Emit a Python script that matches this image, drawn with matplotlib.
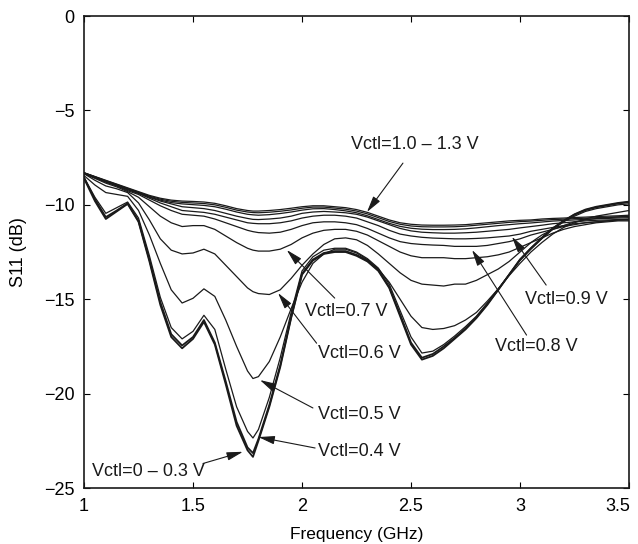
import matplotlib
matplotlib.use("Agg")
import matplotlib.pyplot as plt
from matplotlib.transforms import ScaledTranslation

plt.rcParams['font.family'] = ['Liberation Sans', 'DejaVu Sans']

# frequency grid (GHz)
freq = [1.0, 1.05, 1.1, 1.15, 1.2, 1.25, 1.3, 1.35, 1.4, 1.45,
        1.5, 1.55, 1.6, 1.65, 1.7, 1.75, 1.775, 1.8, 1.85, 1.9,
        1.95, 2.0, 2.05, 2.1, 2.15, 2.2, 2.25, 2.3, 2.35, 2.4,
        2.45, 2.5, 2.55, 2.6, 2.65, 2.7, 2.75, 2.8, 2.85, 2.9,
        2.95, 3.0, 3.05, 3.1, 3.15, 3.2, 3.25, 3.3, 3.35, 3.4,
        3.45, 3.5]

# S11 (dB), one list per control voltage
s11_00 = [-8.6, -9.8, -10.75, -10.35, -9.95, -10.9, -13.0, -15.3, -17.0, -17.6,
          -17.1, -16.2, -17.4, -19.5, -21.7, -23.0, -23.35, -22.5, -20.7, -18.6,
          -16.0, -13.7, -12.95, -12.6, -12.5, -12.5, -12.7, -13.0, -13.5, -14.4,
          -15.9, -17.4, -18.2, -18.0, -17.6, -17.1, -16.6, -16.0, -15.3, -14.5,
          -13.7, -12.9, -12.3, -11.75, -11.25, -10.85, -10.5, -10.25, -10.1, -10.0,
          -9.9, -9.83]
s11_03 = [-8.55, -9.7, -10.65, -10.3, -9.92, -10.85, -12.9, -15.15, -16.85, -17.45,
          -17.0, -16.1, -17.3, -19.35, -21.5, -22.85, -23.15, -22.4, -20.6, -18.5,
          -15.95, -13.65, -12.9, -12.55, -12.45, -12.45, -12.65, -12.95, -13.45, -14.35,
          -15.8, -17.3, -18.1, -17.9, -17.5, -17.05, -16.55, -15.95, -15.25, -14.5,
          -13.7, -12.9, -12.3, -11.75, -11.25, -10.85, -10.52, -10.28, -10.13, -10.03,
          -9.93, -9.86]
s11_04 = [-8.55, -9.6, -10.45, -10.15, -9.85, -10.7, -12.7, -14.9, -16.5, -17.1,
          -16.7, -15.85, -16.6, -18.7, -20.7, -22.0, -22.35, -21.9, -20.2, -18.1,
          -15.7, -13.5, -12.75, -12.4, -12.3, -12.3, -12.5, -12.85, -13.35, -14.2,
          -15.6, -17.0, -17.85, -17.75, -17.4, -16.95, -16.45, -15.9, -15.2, -14.45,
          -13.7, -12.95, -12.35, -11.8, -11.3, -10.9, -10.6, -10.35, -10.2, -10.1,
          -10.0, -9.95]
s11_05 = [-8.45, -8.95, -9.35, -9.45, -9.55, -10.3, -11.6, -13.1, -14.5, -15.2,
          -14.95, -14.45, -14.85, -16.1, -17.5, -18.8, -19.2, -19.1, -18.3, -17.0,
          -15.5, -14.1, -13.1, -12.6, -12.35, -12.35, -12.55, -12.9, -13.4, -14.1,
          -15.0, -15.9, -16.5, -16.6, -16.55, -16.4, -16.1, -15.7, -15.1, -14.45,
          -13.75, -13.1, -12.5, -12.0, -11.55, -11.2, -10.95, -10.75, -10.6, -10.5,
          -10.4, -10.3]
s11_06 = [-8.35, -8.7, -9.0, -9.15, -9.35, -9.9, -10.8, -11.8, -12.4, -12.6,
          -12.55, -12.35, -12.6, -13.2, -13.8, -14.4, -14.6, -14.7, -14.75, -14.5,
          -13.9, -13.2, -12.6, -12.1, -11.8, -11.75, -11.85, -12.15, -12.6, -13.1,
          -13.6, -14.0, -14.2, -14.25, -14.3, -14.2, -14.2, -14.0, -13.7, -13.4,
          -13.0, -12.5, -12.0, -11.6, -11.3, -11.1, -10.9, -10.8, -10.72, -10.68,
          -10.64, -10.6]
s11_07 = [-8.35, -8.6, -8.85, -9.05, -9.3, -9.6, -10.1, -10.6, -10.95, -11.15,
          -11.1, -11.1, -11.3, -11.65, -12.0, -12.3, -12.4, -12.45, -12.45, -12.35,
          -12.1, -11.75, -11.5, -11.35, -11.3, -11.3, -11.4, -11.6, -11.9, -12.2,
          -12.5, -12.7, -12.8, -12.8, -12.8, -12.85, -12.85, -12.8, -12.75, -12.65,
          -12.5, -12.25, -12.0, -11.75, -11.5, -11.3, -11.15, -11.05, -10.95, -10.9,
          -10.85, -10.85]
s11_08 = [-8.33, -8.55, -8.8, -9.0, -9.25, -9.45, -9.75, -10.05, -10.3, -10.5,
          -10.55, -10.6, -10.75, -10.95, -11.15, -11.35, -11.42, -11.47, -11.5, -11.45,
          -11.3, -11.1, -10.95, -10.9, -10.9, -10.95, -11.05, -11.25, -11.5, -11.75,
          -11.95, -12.05, -12.1, -12.13, -12.15, -12.2, -12.2, -12.2, -12.15, -12.05,
          -11.95, -11.8, -11.6, -11.45, -11.3, -11.15, -11.05, -10.95, -10.9, -10.85,
          -10.8, -10.8]
s11_09 = [-8.32, -8.55, -8.78, -8.98, -9.2, -9.4, -9.65, -9.9, -10.1, -10.3,
          -10.35, -10.4, -10.5, -10.65, -10.8, -10.95, -10.98, -11.0, -11.0, -10.95,
          -10.85, -10.7, -10.6, -10.55, -10.55, -10.6, -10.7, -10.9, -11.1, -11.35,
          -11.55, -11.65, -11.72, -11.76, -11.78, -11.8, -11.8, -11.78, -11.75, -11.7,
          -11.65, -11.55, -11.4, -11.3, -11.2, -11.1, -11.0, -10.95, -10.9, -10.85,
          -10.8, -10.78]
s11_10 = [-8.31, -8.53, -8.75, -8.96, -9.17, -9.37, -9.6, -9.8, -9.95, -10.1,
          -10.15, -10.2, -10.3, -10.45, -10.6, -10.72, -10.77, -10.78, -10.75, -10.7,
          -10.6, -10.45, -10.38, -10.35, -10.38, -10.42, -10.5, -10.65, -10.85, -11.05,
          -11.25, -11.38, -11.45, -11.48, -11.5, -11.5, -11.48, -11.45, -11.4, -11.35,
          -11.3, -11.22, -11.15, -11.08, -11.0, -10.95, -10.9, -10.85, -10.82, -10.8,
          -10.78, -10.75]
s11_11 = [-8.31, -8.52, -8.74, -8.94, -9.15, -9.36, -9.58, -9.75, -9.88, -9.95,
          -9.99, -10.03, -10.1, -10.23, -10.38, -10.5, -10.53, -10.55, -10.52, -10.46,
          -10.38, -10.28, -10.21, -10.2, -10.25, -10.32, -10.42, -10.58, -10.78, -10.98,
          -11.14, -11.24, -11.29, -11.31, -11.31, -11.3, -11.27, -11.22, -11.16, -11.1,
          -11.05, -11.0, -10.96, -10.91, -10.86, -10.83, -10.8, -10.77, -10.74, -10.72,
          -10.7, -10.68]
s11_12 = [-8.3, -8.51, -8.72, -8.92, -9.13, -9.33, -9.54, -9.7, -9.81, -9.87,
          -9.9, -9.93, -10.0, -10.13, -10.28, -10.38, -10.41, -10.42, -10.39, -10.34,
          -10.27, -10.18, -10.12, -10.12, -10.17, -10.23, -10.33, -10.48, -10.68, -10.88,
          -11.03, -11.12, -11.16, -11.17, -11.17, -11.16, -11.13, -11.08, -11.03, -10.98,
          -10.93, -10.89, -10.86, -10.82, -10.78, -10.76, -10.73, -10.71, -10.68, -10.66,
          -10.64, -10.62]
s11_13 = [-8.3, -8.5, -8.7, -8.9, -9.1, -9.3, -9.5, -9.65, -9.75, -9.8,
          -9.82, -9.85, -9.92, -10.05, -10.2, -10.3, -10.33, -10.33, -10.3, -10.25,
          -10.18, -10.1, -10.05, -10.05, -10.1, -10.15, -10.25, -10.4, -10.6, -10.8,
          -10.95, -11.03, -11.07, -11.08, -11.08, -11.07, -11.05, -11.0, -10.95, -10.9,
          -10.85, -10.82, -10.8, -10.75, -10.72, -10.7, -10.67, -10.65, -10.62, -10.6,
          -10.58, -10.55]

thin_curves = [s11_04, s11_05, s11_06, s11_07, s11_08, s11_09, s11_10,
               s11_11, s11_12, s11_13]
thick_curves = [s11_00, s11_03]

labels = ['Vctl=1.0 \u2013 1.3 V', 'Vctl=0.9 V', 'Vctl=0.8 V', 'Vctl=0.7 V',
          'Vctl=0.6 V', 'Vctl=0.5 V', 'Vctl=0.4 V', 'Vctl=0 \u2013 0.3 V']

fig = plt.figure(figsize=(6.38, 5.44), dpi=100)
ax = fig.add_axes([0.1317, 0.1029, 0.8542, 0.8676])

ink = '#1a1a1a'
for s in thin_curves:
    ax.plot(freq, s, color=ink, lw=0.9)
for s in thick_curves:
    ax.plot(freq, s, color=ink, lw=1.3)

# label text position (x, y, align) and arrow start -> tip
notes = [
    ((2.518, -6.8, 'center'), (2.463, -7.79), (2.298, -10.38)),
    ((3.023, -15.04, 'left'), (3.12, -14.25), (2.963, -11.69)),
    ((2.885, -17.53, 'left'), (3.03, -16.9), (2.78, -12.39)),
    ((2.014, -15.65, 'left'), (2.15, -14.94), (1.93, -12.39)),
    ((2.073, -17.88, 'left'), (2.067, -17.33), (1.89, -14.67)),
    ((2.073, -21.13, 'left'), (2.05, -20.76), (1.807, -19.28)),
    ((2.073, -23.08, 'left'), (2.06, -22.88), (1.80, -22.3)),
    ((1.037, -24.1, 'left'), (1.546, -23.7), (1.729, -23.08)),
]
for lab, (tpos, start, tip) in zip(labels, notes):
    ax.text(tpos[0], tpos[1], lab, ha=tpos[2], va='center', fontsize=13, color=ink)
    ax.annotate('', xy=tip, xytext=start,
                arrowprops=dict(arrowstyle='-|>,head_length=0.7,head_width=0.18',
                                color=ink, lw=0.8, shrinkA=0, shrinkB=0,
                                mutation_scale=14))

ax.set_xlim(1, 3.5)
ax.set_ylim(-25, 0)
ax.set_xticks([1, 1.5, 2, 2.5, 3, 3.5])
ax.set_xticklabels(['1', '1.5', '2', '2.5', '3', '3.5'])
ax.set_yticks([-25, -20, -15, -10, -5, 0])
ax.tick_params(direction='in', top=True, right=True, length=4, width=0.8,
               labelsize=13, pad=7)
for sp in ax.spines.values():
    sp.set_linewidth(1.2)
    sp.set_color(ink)

# last x label sits a little left so it stays inside the figure
last = ax.get_xticklabels()[-1]
last.set_transform(last.get_transform() +
                   ScaledTranslation(-8 / 72, 0, fig.dpi_scale_trans))

ax.set_xlabel('Frequency (GHz)', fontsize=12.5)
ax.set_ylabel('S11 (dB)', fontsize=13)
ax.xaxis.set_label_coords(0.5, -0.082)
ax.yaxis.set_label_coords(-0.105, 0.5)

fig.savefig('out.png', dpi=100)
